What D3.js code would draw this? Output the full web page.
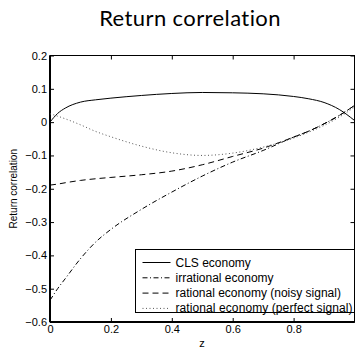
<!DOCTYPE html>
<html>
<head>
<meta charset="utf-8">
<script src="https://cdn.jsdelivr.net/npm/d3@7"></script>
<style>
  body { margin: 0; background: #fff; }
  svg { display: block; }
  .tick text { font-family: "Liberation Sans", Arial, sans-serif; font-size: 11px; }
</style>
</head>
<body>
<div id="chart"></div>
<script>
// chart data
var zValues = [0, 0.025, 0.05, 0.1, 0.15, 0.2, 0.3, 0.4, 0.5, 0.6, 0.7, 0.8, 0.85, 0.9, 0.95, 1.0];
var clsEconomy = [0, 0.026, 0.042, 0.06, 0.067, 0.072, 0.08, 0.086, 0.089, 0.088, 0.085, 0.077, 0.07, 0.059, 0.038, 0.005];
var irrationalEconomy = [-0.535, -0.5, -0.47, -0.41, -0.36, -0.322, -0.262, -0.21, -0.162, -0.12, -0.085, -0.045, -0.027, -0.005, 0.02, 0.05];
var noisySignal = [-0.189, -0.186, -0.182, -0.175, -0.17, -0.166, -0.158, -0.147, -0.128, -0.103, -0.078, -0.045, -0.027, -0.005, 0.02, 0.05];
var perfectSignal = [0.025, 0.018, 0.01, -0.008, -0.028, -0.044, -0.072, -0.092, -0.1, -0.093, -0.075, -0.048, -0.03, -0.01, 0.015, 0.045];
var seriesNames = ["CLS economy", "irrational economy", "rational economy (noisy signal)", "rational economy (perfect signal)"];
var xTicks = [0, 0.2, 0.4, 0.6, 0.8];
var yTicks = [0.2, 0.1, 0, -0.1, -0.2, -0.3, -0.4, -0.5, -0.6];

window.onload = function () {
    var width = 355, height = 348;
    var left = 50, right = 354.5, top = 55.5, bottom = 322;

    var svg = d3.select("#chart").append("svg")
        .attr("width", width)
        .attr("height", height);

    var xScale = d3.scaleLinear().domain([0, 1]).range([left, right]);
    var yScale = d3.scaleLinear().domain([-0.6, 0.2]).range([bottom, top]);

    function fmt(d) { return d === 0 ? "0" : d3.format(".1f")(d).replace("-", "\u2212"); }

    // bottom axis, ticks pointing in
    svg.append("g")
        .attr("transform", "translate(0," + bottom + ")")
        .call(d3.axisBottom(xScale).tickValues(xTicks).tickFormat(fmt).tickSizeInner(-4).tickSizeOuter(0).tickPadding(3))
        .call(function (g) { g.select(".domain").remove(); });

    // left axis
    svg.append("g")
        .attr("transform", "translate(" + left + ",0)")
        .call(d3.axisLeft(yScale).tickValues(yTicks).tickFormat(fmt).tickSizeInner(-4).tickSizeOuter(0).tickPadding(3))
        .call(function (g) { g.select(".domain").remove(); });

    // top and right ticks (no labels)
    svg.append("g")
        .attr("transform", "translate(0," + top + ")")
        .call(d3.axisTop(xScale).tickValues(xTicks).tickFormat("").tickSizeInner(-4).tickSizeOuter(0))
        .call(function (g) { g.select(".domain").remove(); });
    svg.append("g")
        .attr("transform", "translate(" + right + ",0)")
        .call(d3.axisRight(yScale).tickValues(yTicks).tickFormat("").tickSizeInner(-4).tickSizeOuter(0))
        .call(function (g) { g.select(".domain").remove(); });

    svg.selectAll(".tick line").attr("stroke", "#000").attr("stroke-width", 1);

    // frame
    svg.append("rect")
        .attr("x", left).attr("y", top)
        .attr("width", right - left).attr("height", bottom - top)
        .attr("fill", "none").attr("stroke", "#000").attr("stroke-width", 1);
    svg.append("line").attr("x1", left).attr("x2", left).attr("y1", top).attr("y2", bottom)
        .attr("stroke", "#000").attr("stroke-width", 2);
    svg.append("line").attr("x1", left).attr("x2", right).attr("y1", bottom).attr("y2", bottom)
        .attr("stroke", "#000").attr("stroke-width", 2);

    var styles = [
        { data: clsEconomy, dash: null, color: "#000" },
        { data: irrationalEconomy, dash: "5,2.5,1,2.5", color: "#000" },
        { data: noisySignal, dash: "6,4", color: "#000" },
        { data: perfectSignal, dash: "1,2.5", color: "#555" }
    ];

    var line = d3.line()
        .x(function (d) { return xScale(d.z); })
        .y(function (d) { return yScale(d.v); })
        .curve(d3.curveMonotoneX);

    styles.forEach(function (s) {
        var pts = zValues.map(function (z, i) { return { z: z, v: s.data[i] }; });
        svg.append("path")
            .datum(pts)
            .attr("fill", "none")
            .attr("stroke", s.color)
            .attr("stroke-width", 1)
            .attr("stroke-dasharray", s.dash)
            .attr("d", line);
    });

    // legend
    var lx = 135.5, ly = 249.5, lw = 219, lh = 63;
    svg.append("rect")
        .attr("x", lx).attr("y", ly).attr("width", lw).attr("height", lh)
        .attr("fill", "#fff").attr("stroke", "#000").attr("stroke-width", 1);

    styles.forEach(function (s, i) {
        var cy = ly + 13 + i * 15.3;
        svg.append("line")
            .attr("x1", lx + 7).attr("x2", lx + 35)
            .attr("y1", cy).attr("y2", cy)
            .attr("stroke", s.color).attr("stroke-width", 1)
            .attr("stroke-dasharray", s.dash);
        svg.append("text")
            .attr("x", lx + 40).attr("y", cy + 4)
            .attr("font-family", "Liberation Sans, Arial, sans-serif")
            .attr("font-size", 12)
            .attr("textLength", i === 3 ? 177 : null)
            .text(seriesNames[i]);
    });

    // titles
    svg.append("text")
        .attr("x", 190).attr("y", 26)
        .attr("text-anchor", "middle")
        .attr("font-family", "Lato, sans-serif")
        .attr("font-size", 22)
        .attr("letter-spacing", 0.4)
        .text("Return correlation");

    svg.append("text")
        .attr("transform", "translate(17," + (top + bottom) / 2 + ") rotate(-90)")
        .attr("text-anchor", "middle")
        .attr("font-family", "Liberation Sans, Arial, sans-serif")
        .attr("font-size", 10)
        .text("Return correlation");

    svg.append("text")
        .attr("x", 202).attr("y", 347)
        .attr("text-anchor", "middle")
        .attr("font-family", "Liberation Sans, Arial, sans-serif")
        .attr("font-size", 11)
        .text("z");
};
</script>
</body>
</html>
